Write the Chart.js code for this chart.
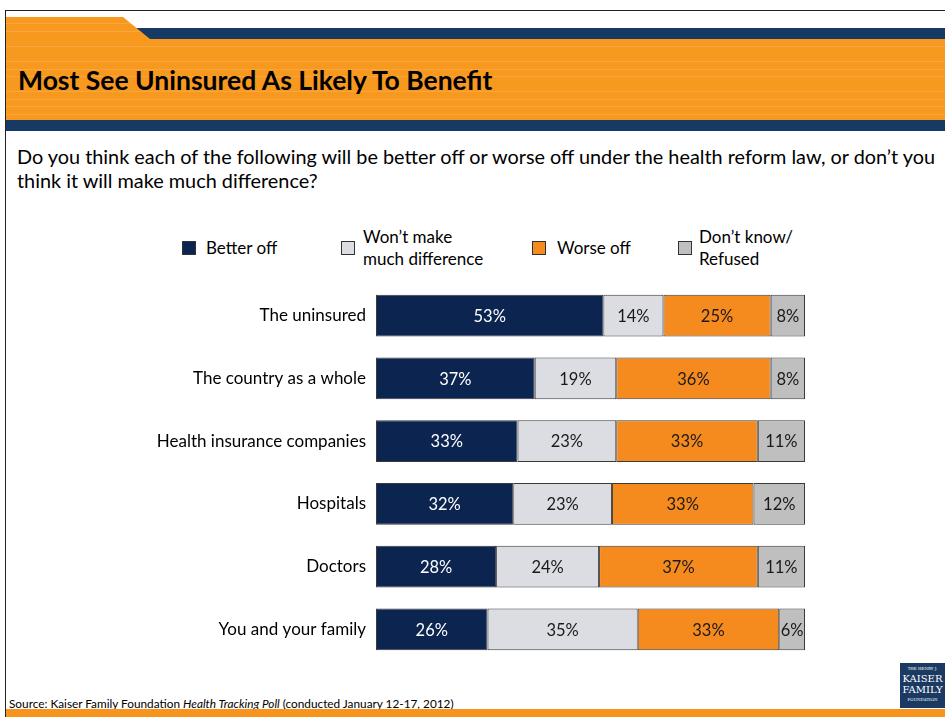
<!DOCTYPE html>
<html>
<head>
<meta charset="utf-8">
<script src="https://cdn.jsdelivr.net/npm/chart.js@4.4.0/dist/chart.umd.min.js"></script>
<style>
body{margin:0;width:945px;height:717px;position:relative;overflow:hidden;background:#fff;font-family:Lato,"Open Sans",sans-serif;color:#000;}
.abs{position:absolute;}
#frame{left:5px;top:10px;right:0;bottom:0;border-left:1.5px solid #222;border-top:1.5px solid #222;}
#head{left:6px;top:17px;right:0;height:103px;background:repeating-linear-gradient(to bottom,#f7981f 0px,#f7981f 6.5px,#f9a640 6.5px,#f9a640 7.5px);}
#notch{left:123px;top:17px;width:822px;height:22px;clip-path:polygon(0 0,100% 0,100% 100%,27px 100%);background:linear-gradient(to bottom,#fff 0px,#fff 11px,#173a64 11px,#173a64 22px);}
#band{left:6px;top:120px;right:0;height:11px;background:#173a64;}
#title{left:18px;top:64px;font-size:26.5px;font-weight:bold;line-height:32px;white-space:nowrap;}
#question{left:17px;top:144px;font-size:19.85px;line-height:24px;white-space:nowrap;}
.leg{font-size:17px;line-height:22px;white-space:nowrap;}
.box{width:14px;height:14px;border:1px solid #333;box-sizing:border-box;}
#source{left:9px;top:696px;font-size:11.8px;white-space:nowrap;}
#foot{left:6px;top:709px;right:0;height:8px;background:#f7941d;}
#logo{left:900px;top:663px;width:45px;height:45px;background:#1b3a63;color:#fff;font-family:"DejaVu Serif",serif;text-align:center;overflow:hidden;}
</style>
</head>
<body>
<div id="frame" class="abs"></div>
<div id="head" class="abs"></div>
<div id="notch" class="abs"></div>
<div id="band" class="abs"></div>
<div id="title" class="abs">Most See Uninsured As Likely To Benefit</div>
<div id="question" class="abs">Do you think each of the following will be better off or worse off under the health reform law, or don’t you<br>think it will make much difference?</div>
<div id="legend"></div>
<canvas id="barChart" class="abs" style="left:0;top:264px;" width="815" height="417"></canvas>
<div id="source" class="abs">Source: Kaiser Family Foundation <i>Health Tracking Poll</i> (conducted January 12-17, 2012)</div>
<div id="foot" class="abs"></div>
<div id="logo" class="abs">
  <div style="font-size:4px;margin-top:3px;">THE HENRY J.</div>
  <div style="font-size:10px;line-height:11px;margin-top:2px;">KAISER</div>
  <div style="font-size:10px;line-height:11px;">FAMILY</div>
  <div style="font-size:4px;margin-top:2px;">FOUNDATION</div>
</div>
<script>
// chart data
var categories = ['The uninsured', 'The country as a whole', 'Health insurance companies', 'Hospitals', 'Doctors', 'You and your family'];
var seriesNames = [['Better off'], ['Won’t make', 'much difference'], ['Worse off'], ['Don’t know/', 'Refused']];
var betterOff = [53, 37, 33, 32, 28, 26];
var noDifference = [14, 19, 23, 23, 24, 35];
var worseOff = [25, 36, 33, 33, 37, 33];
var dontKnow = [8, 8, 11, 12, 11, 6];
var seriesColors = ['#0b2550', '#dcdce3', '#f58a1f', '#bfbfbf'];
var labelColors = ['#ffffff', '#1a1a1a', '#1a1a1a', '#1a1a1a'];

// legend, drawn as html
var legendPos = [[182, 206], [341, 363], [532, 557], [678, 699]];
var legendHtml = '';
seriesNames.forEach(function (name, i) {
    var top = name.length > 1 ? 226 : 237;
    legendHtml += '<div class="abs box" style="left:' + legendPos[i][0] + 'px;top:241px;background:' + seriesColors[i] + ';"></div>';
    legendHtml += '<div class="abs leg" style="left:' + legendPos[i][1] + 'px;top:' + top + 'px;">' + name.join('<br>') + '</div>';
});
document.getElementById('legend').innerHTML = legendHtml;

// percent labels inside the bars
var barLabels = {
    id: 'barLabels',
    afterDatasetsDraw: function (chart) {
        var c = chart.ctx;
        c.save();
        c.font = '16.5px Lato, "Open Sans", sans-serif';
        c.textAlign = 'center';
        c.textBaseline = 'middle';
        chart.data.datasets.forEach(function (ds, i) {
            chart.getDatasetMeta(i).data.forEach(function (bar, j) {
                c.fillStyle = labelColors[i];
                c.fillText(ds.data[j] + '%', (bar.x + bar.base) / 2, bar.y + 1);
            });
        });
        c.restore();
    }
};

var allSeries = [betterOff, noDifference, worseOff, dontKnow];
var ctx = document.getElementById('barChart').getContext('2d');
var barChart = new Chart(ctx, {
    type: 'bar',
    data: {
        labels: categories,
        datasets: allSeries.map(function (d, i) {
            return {
                label: seriesNames[i].join(' '),
                data: d,
                backgroundColor: seriesColors[i],
                borderColor: '#3a3a3a',
                borderWidth: 1,
                borderSkipped: false,
                barPercentage: 0.665,
                categoryPercentage: 1
            };
        })
    },
    options: {
        indexAxis: 'y',
        responsive: false,
        animation: false,
        layout: { padding: { right: 10, top: 0, bottom: 0 } },
        plugins: { legend: { display: false }, tooltip: { enabled: false } },
        scales: {
            x: { stacked: true, min: 0, max: 100, display: false },
            y: {
                stacked: true,
                grid: { display: false, drawTicks: false },
                border: { display: false },
                ticks: { color: '#000', padding: 10, font: { family: 'Lato', size: 17 } },
                afterFit: function (scale) { scale.width = 376; }
            }
        }
    },
    plugins: [barLabels]
});
</script>
</body>
</html>
